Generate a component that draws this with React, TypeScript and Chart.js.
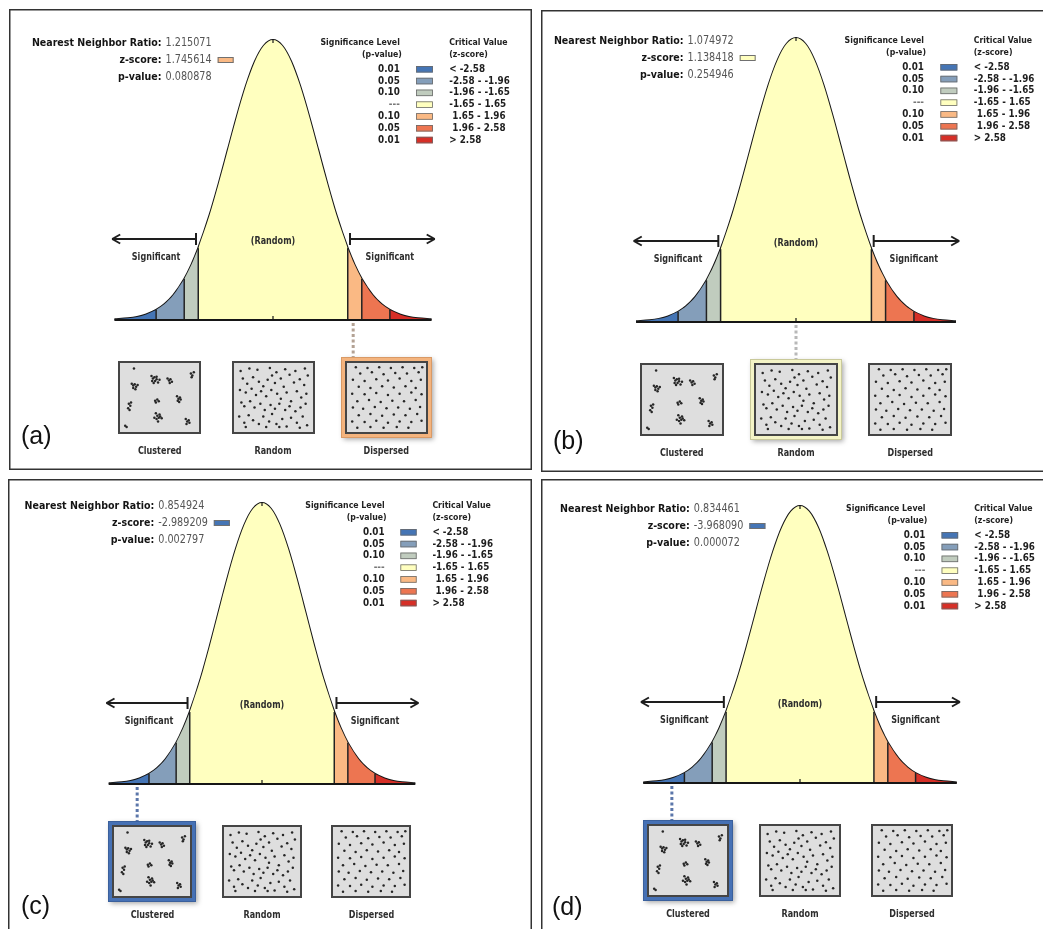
import React, { useEffect, useRef } from 'react';
import { Chart, registerables } from 'chart.js';
Chart.register(...registerables);

// ---------------- data ----------------
const panelLabels = ['(a)', '(b)', '(c)', '(d)'];
const nnRatios = ['1.215071', '1.074972', '0.854924', '0.834461'];
const zScores = ['1.745614', '1.138418', '-2.989209', '-3.968090'];
const pValues = ['0.080878', '0.254946', '0.002797', '0.000072'];
const zScoreBand = [4, 3, 0, 0];
const highlightedPattern = [2, 1, 0, 0];
const connectorZ = [1.77, 0, -2.85, -2.86];

const sigLevels = ['0.01', '0.05', '0.10', '---', '0.10', '0.05', '0.01'];
const critValues = ['< -2.58', '-2.58 - -1.96', '-1.96 - -1.65', '-1.65 - 1.65', ' 1.65 - 1.96', ' 1.96 - 2.58', '> 2.58'];
const bandEdges = [-3.5, -2.58, -1.96, -1.65, 1.65, 1.96, 2.58, 3.5];
const bandColors = ['#4575b5', '#849eba', '#c0ccbe', '#ffffbf', '#fab984', '#ed7551', '#d62f27'];

const curveZ = [-3.5, -3.2, -3.0, -2.8, -2.58, -2.4, -2.2, -1.96, -1.8, -1.65, -1.4, -1.2, -1.0, -0.8, -0.6, -0.4, -0.2, 0,
  0.2, 0.4, 0.6, 0.8, 1.0, 1.2, 1.4, 1.65, 1.8, 1.96, 2.2, 2.4, 2.58, 2.8, 3.0, 3.2, 3.5];
const curveDensity = [0.0009, 0.0024, 0.0044, 0.0079, 0.0143, 0.0224, 0.0355, 0.0584, 0.079, 0.1023, 0.1497, 0.1942, 0.242, 0.2897, 0.3332, 0.3683, 0.391, 0.3989,
  0.391, 0.3683, 0.3332, 0.2897, 0.242, 0.1942, 0.1497, 0.1023, 0.079, 0.0584, 0.0355, 0.0224, 0.0143, 0.0079, 0.0044, 0.0024, 0.0009];

const patternNames = ['Clustered', 'Random', 'Dispersed'];
const clusteredPoints = [
  [15, 4],
  [12, 28], [14, 31], [16, 29], [18, 33], [14, 35], [20, 30], [17, 37],
  [39, 16], [41, 20], [43, 18], [40, 24], [44, 24], [46, 21], [48, 26], [42, 27], [50, 22], [46, 17],
  [61, 20], [63, 23], [65, 21], [67, 25], [64, 27],
  [93, 12], [95, 15], [97, 10], [94, 18],
  [8, 60], [10, 63], [7, 67], [11, 58], [9, 70],
  [44, 55], [47, 53], [49, 56], [45, 58],
  [74, 48], [76, 52], [78, 50], [75, 55], [77, 57], [79, 53],
  [45, 75], [47, 79], [49, 82], [46, 84], [51, 80], [53, 83], [48, 88], [43, 82], [50, 77],
  [86, 84], [88, 88], [90, 86], [87, 92], [91, 90],
  [3, 95], [5, 97],
];
const randomPoints = [
  [5, 8], [17, 4], [28, 6], [45, 3], [54, 10], [66, 5], [80, 8], [93, 4], [97, 15],
  [8, 20], [14, 28], [22, 18], [30, 25], [36, 32], [42, 22], [48, 15], [52, 27], [60, 20], [64, 33], [72, 14], [78, 26], [86, 21], [92, 30],
  [4, 38], [12, 42], [20, 36], [26, 46], [33, 40], [40, 48], [47, 38], [55, 44], [60, 52], [68, 42], [74, 56], [82, 40], [88, 50], [95, 44],
  [6, 58], [10, 64], [18, 56], [24, 66], [32, 60], [38, 70], [46, 62], [52, 68], [58, 60], [66, 70], [72, 64], [80, 72], [87, 66], [94, 60],
  [3, 80], [10, 90], [16, 78], [22, 86], [30, 92], [36, 80], [44, 88], [48, 76], [54, 92], [62, 84], [68, 96], [74, 82], [82, 90], [90, 80], [96, 94],
  [12, 97], [40, 97], [58, 97], [86, 98],
];
const dispersedPoints = [
  [8, 2], [24, 3], [40, 2], [56, 3], [72, 2], [88, 3], [99, 2],
  [14, 12], [30, 10], [46, 13], [62, 11], [78, 12], [94, 10],
  [4, 22], [20, 24], [36, 21], [52, 23], [68, 20], [84, 24], [97, 22],
  [12, 33], [28, 35], [44, 32], [60, 34], [76, 32], [90, 35],
  [3, 44], [20, 45], [36, 43], [52, 46], [68, 44], [84, 42], [98, 45],
  [10, 56], [26, 54], [42, 57], [58, 55], [74, 56], [90, 54],
  [4, 66], [18, 68], [34, 65], [50, 67], [66, 66], [82, 68], [96, 65],
  [12, 78], [28, 76], [44, 79], [60, 77], [76, 78], [92, 76],
  [3, 88], [20, 89], [36, 87], [52, 90], [68, 88], [84, 89], [98, 87],
  [10, 98], [28, 97], [46, 98], [64, 97], [80, 98],
];
const patternPoints = [clusteredPoints, randomPoints, dispersedPoints];

// ---------------- layout ----------------
const PANELS = [
  { frame: [9, 9, 523, 461], cx: 273, base: 320, peak: 40, pz: 45.3, label: [21, 437] },
  { frame: [541, 10, 520, 462], cx: 796, base: 322, peak: 38, pz: 45.7, label: [553, 442] },
  { frame: [8, 479, 524, 470], cx: 262, base: 784, peak: 503, pz: 43.8, label: [21, 907] },
  { frame: [541, 479, 520, 470], cx: 800, base: 783, peak: 506, pz: 44.8, label: [552, 908] },
];
const CONNECTOR_COLORS = ['#b3a294', '#b8b8b8', '#5b76aa', '#5b76aa'];
const FRAME_COLORS = [['#f4b47e', '#d99a66'], ['#f4f4c6', '#c9c99a'], ['#4671b5', '#3a609c'], ['#4671b5', '#3a609c']];

const SX = 0.84;
const FONT = '"DejaVu Sans", Verdana, sans-serif';

function txt(ctx: CanvasRenderingContext2D, s: string, x: number, y: number, size: number, weight: string,
  color: string, align = 'left', family = FONT, sx = SX) {
  ctx.save();
  ctx.font = `${weight} ${size}px ${family}`;
  ctx.fillStyle = color;
  ctx.textBaseline = 'middle';
  ctx.textAlign = 'left';
  const w = ctx.measureText(s).width * sx;
  const left = align === 'right' ? x - w : align === 'center' ? x - w / 2 : x;
  ctx.translate(left, y);
  ctx.scale(sx, 1);
  ctx.fillText(s, 0, 0);
  ctx.restore();
  return w;
}

function line(ctx: CanvasRenderingContext2D, x1: number, y1: number, x2: number, y2: number) {
  ctx.beginPath();
  ctx.moveTo(x1, y1);
  ctx.lineTo(x2, y2);
  ctx.stroke();
}

function boxRect(p: any, k: number) {
  const c = p.cx + (k - 1) * 2.5 * p.pz;
  const w = 1.83 * p.pz;
  return { x: Math.round(c - w / 2), y: Math.round(p.base + 41), w: Math.round(w), h: 73 };
}

function PatternBox({ rect, points }: { rect: any; points: number[][] }) {
  const ref = useRef<HTMLCanvasElement>(null);
  useEffect(() => {
    const chart = new Chart(ref.current as HTMLCanvasElement, {
      type: 'scatter',
      data: {
        datasets: [{
          data: points.map(([x, y]) => ({ x, y })),
          pointRadius: 1.25,
          pointBackgroundColor: '#262626',
          pointBorderWidth: 0,
          clip: false,
        } as any],
      },
      options: {
        responsive: false,
        animation: false,
        events: [],
        layout: { padding: 5 },
        plugins: { legend: { display: false }, tooltip: { enabled: false } },
        scales: {
          x: { type: 'linear', min: 0, max: 100, display: false },
          y: { type: 'linear', min: 0, max: 100, reverse: true, display: false },
        },
      },
      plugins: [{
        id: 'boxbg',
        beforeDraw(c: any) {
          const ctx = c.ctx;
          ctx.save();
          ctx.fillStyle = '#dedede';
          ctx.fillRect(0, 0, c.width, c.height);
          ctx.restore();
        },
        afterDraw(c: any) {
          const ctx = c.ctx;
          ctx.save();
          ctx.strokeStyle = '#454545';
          ctx.lineWidth = 2;
          ctx.strokeRect(1, 1, c.width - 2, c.height - 2);
          ctx.restore();
        },
      }],
    });
    return () => chart.destroy();
  }, []);
  return (
    <canvas ref={ref} width={rect.w} height={rect.h}
      style={{ position: 'absolute', left: rect.x, top: rect.y, width: rect.w, height: rect.h }} />
  );
}

function Panel({ idx }: { idx: number }) {
  const ref = useRef<HTMLCanvasElement>(null);
  const p = PANELS[idx];
  const [fx, fy, fw, fh] = p.frame;

  useEffect(() => {
    const allPts = curveZ.map((z, j) => ({ x: z, y: curveDensity[j] }));
    const bandSets = bandColors.map((c, i) => ({
      data: allPts.filter(pt => pt.x >= bandEdges[i] - 1e-9 && pt.x <= bandEdges[i + 1] + 1e-9),
      backgroundColor: c,
      borderColor: 'rgba(0,0,0,0)',
      borderWidth: 0,
      fill: 'origin',
      pointRadius: 0,
      cubicInterpolationMode: 'monotone',
    }));
    const outline = {
      data: allPts,
      borderColor: '#161616',
      borderWidth: 2,
      fill: false,
      pointRadius: 0,
      cubicInterpolationMode: 'monotone',
      clip: false,
    };

    const left = p.cx - 3.5 * p.pz - fx;
    const right = fw - (p.cx + 3.5 * p.pz - fx);
    const top = p.peak - fy;
    const bottom = fh - (p.base - fy);

    const deco = {
      id: 'deco',
      afterDatasetsDraw(chart: any) {
        const ctx = chart.ctx as CanvasRenderingContext2D;
        const xs = chart.scales.x;
        const ys = chart.scales.y;
        ctx.save();
        ctx.strokeStyle = '#222';
        ctx.lineWidth = 1.5;
        bandEdges.slice(1, -1).forEach(e => {
          const j = curveZ.indexOf(e);
          const x = xs.getPixelForValue(e);
          line(ctx, x, ys.getPixelForValue(0), x, ys.getPixelForValue(curveDensity[j]));
        });
        ctx.restore();
      },
      afterDraw(chart: any) {
        const ctx = chart.ctx as CanvasRenderingContext2D;
        const xs = chart.scales.x;
        const X = (z: number) => xs.getPixelForValue(z) + fx;
        ctx.save();
        ctx.translate(-fx, -fy);

        // baseline and ticks
        ctx.strokeStyle = '#161616';
        ctx.lineWidth = 2.2;
        line(ctx, X(-3.5), p.base, X(3.5), p.base);
        ctx.lineWidth = 1.2;
        line(ctx, X(0), p.base - 4, X(0), p.base);
        line(ctx, X(0), p.peak - 1, X(0), p.peak + 3);

        // statistics text block
        const colon = p.cx - 2.46 * p.pz;
        const rows = [['Nearest Neighbor Ratio:', nnRatios[idx]], ['z-score:', zScores[idx]], ['p-value:', pValues[idx]]];
        rows.forEach(([lab, val], r) => {
          const y = p.peak + 3 + r * 17;
          txt(ctx, lab, colon, y, 11.3, 'bold', '#141414', 'right');
          const w = txt(ctx, val, colon + 4, y, 11.5, 'normal', '#555', 'left');
          if (r === 1) {
            const sx = colon + 4 + w + 6;
            ctx.fillStyle = bandColors[zScoreBand[idx]];
            ctx.fillRect(sx, y - 3, 16, 6);
            ctx.strokeStyle = '#707070';
            ctx.lineWidth = 1;
            ctx.strokeRect(sx + 0.5, y - 2.5, 15, 5);
          }
        });

        // legend
        const sigR = p.cx + 2.8 * p.pz;
        const critL = p.cx + 3.89 * p.pz;
        const swL = p.cx + 3.16 * p.pz;
        const swW = 0.37 * p.pz;
        txt(ctx, 'Significance Level', sigR, p.peak + 3, 9.3, 'bold', '#222', 'right');
        txt(ctx, '(p-value)', sigR + 2, p.peak + 15, 9.3, 'bold', '#222', 'right');
        txt(ctx, 'Critical Value', critL, p.peak + 3, 9.3, 'bold', '#222', 'left');
        txt(ctx, '(z-score)', critL, p.peak + 15, 9.3, 'bold', '#222', 'left');
        sigLevels.forEach((s, i) => {
          const y = p.peak + 29 + i * 11.8;
          txt(ctx, s, sigR, y, 10.5, 'bold', i === 3 ? '#777' : '#1e1e1e', 'right');
          ctx.fillStyle = bandColors[i];
          ctx.fillRect(swL, y - 3, swW, 6.5);
          ctx.strokeStyle = '#6a6a6a';
          ctx.lineWidth = 0.8;
          ctx.strokeRect(swL + 0.4, y - 2.6, swW - 0.8, 5.7);
          txt(ctx, critValues[i], critL, y, 10.5, 'bold', '#1e1e1e', 'left');
        });

        // arrows
        const ay = p.base - 81;
        ctx.strokeStyle = '#1e1e1e';
        ctx.lineWidth = 2;
        const la = X(-3.55), lb = X(-1.70), ra = X(1.70), rb = X(3.57);
        line(ctx, la, ay, lb, ay);
        line(ctx, lb, ay - 6, lb, ay + 6);
        line(ctx, la + 8, ay - 4.5, la, ay);
        line(ctx, la, ay, la + 8, ay + 4.5);
        line(ctx, ra, ay, rb, ay);
        line(ctx, ra, ay - 6, ra, ay + 6);
        line(ctx, rb - 8, ay - 4.5, rb, ay);
        line(ctx, rb, ay, rb - 8, ay + 4.5);
        txt(ctx, '(Random)', X(0), p.base - 79, 9.6, 'bold', '#2e2e2e', 'center');
        txt(ctx, 'Significant', X(-2.58), p.base - 63, 9.6, 'bold', '#2e2e2e', 'center');
        txt(ctx, 'Significant', X(2.58), p.base - 63, 9.6, 'bold', '#2e2e2e', 'center');

        // highlighted pattern frame
        const hr = boxRect(p, highlightedPattern[idx]);
        const [fc, fe] = FRAME_COLORS[idx];
        ctx.save();
        ctx.shadowColor = 'rgba(0,0,0,0.35)';
        ctx.shadowBlur = 5;
        ctx.shadowOffsetX = 1.5;
        ctx.shadowOffsetY = 1.5;
        ctx.fillStyle = fc;
        ctx.fillRect(hr.x - 4, hr.y - 4, hr.w + 8, hr.h + 8);
        ctx.restore();
        ctx.strokeStyle = fe;
        ctx.lineWidth = 1;
        ctx.strokeRect(hr.x - 3.5, hr.y - 3.5, hr.w + 7, hr.h + 7);

        // connector
        ctx.save();
        ctx.strokeStyle = CONNECTOR_COLORS[idx];
        ctx.lineWidth = 3;
        ctx.setLineDash([3, 2.5]);
        line(ctx, X(connectorZ[idx]), p.base + 3, X(connectorZ[idx]), hr.y - 4);
        ctx.restore();

        // pattern labels
        patternNames.forEach((n, k) => {
          txt(ctx, n, p.cx + (k - 1) * 2.5 * p.pz, p.base + 131, 9.6, 'bold', '#2e2e2e', 'center');
        });

        // panel label
        txt(ctx, panelLabels[idx], p.label[0], p.label[1], 25, 'normal', '#111', 'left',
          '"Liberation Sans", Arial, sans-serif', 1);

        // frame
        ctx.strokeStyle = '#333';
        ctx.lineWidth = 1.5;
        ctx.strokeRect(fx + 0.75, fy + 0.75, fw - 1.5, fh - 1.5);
        ctx.restore();
      },
    };

    const chart = new Chart(ref.current as HTMLCanvasElement, {
      type: 'line',
      data: { datasets: [...bandSets, outline] as any },
      options: {
        responsive: false,
        animation: false,
        events: [],
        layout: { padding: { left, right, top, bottom } },
        plugins: { legend: { display: false }, tooltip: { enabled: false } },
        scales: {
          x: { type: 'linear', min: -3.5, max: 3.5, display: false },
          y: { type: 'linear', min: 0, max: 0.3989, display: false },
        },
      },
      plugins: [deco],
    });
    return () => chart.destroy();
  }, []);

  return (
    <>
      <canvas ref={ref} width={fw} height={fh}
        style={{ position: 'absolute', left: fx, top: fy, width: fw, height: fh }} />
      {patternPoints.map((pts, k) => (
        <PatternBox key={k} rect={boxRect(p, k)} points={pts} />
      ))}
    </>
  );
}

export default function App() {
  return (
    <div style={{ position: 'fixed', left: 0, top: 0, width: 1043, height: 929, overflow: 'hidden', background: '#fff' }}>
      {PANELS.map((_, i) => <Panel key={i} idx={i} />)}
    </div>
  );
}
